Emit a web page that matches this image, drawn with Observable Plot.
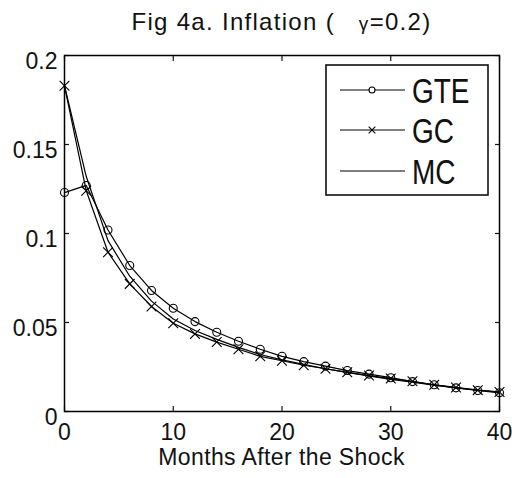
<!DOCTYPE html>
<html>
<head>
<meta charset="utf-8">
<script src="https://cdn.jsdelivr.net/npm/d3@7"></script>
<script src="https://cdn.jsdelivr.net/npm/@observablehq/plot@0.6"></script>
<style>
  html, body { margin: 0; padding: 0; background: white; }
  #wrap { position: relative; width: 512px; height: 478px; overflow: hidden; font-family: "Liberation Sans", Arial, sans-serif; color: black; }
  #title { position: absolute; left: 34px; width: 495px; top: 10px; text-align: center; font-size: 24px; line-height: 24px; white-space: pre; letter-spacing: 1.3px; color: #111; }
  #title .g { font-size: 19px; }
  #xlabel { position: absolute; left: 34px; width: 495px; top: 446px; text-align: center; font-size: 23px; line-height: 23px; white-space: pre; letter-spacing: 0.4px; color: #111; }
  #legend { position: absolute; left: 0; top: 0; }
</style>
</head>
<body>
<div id="wrap">
  <div id="chart"></div>
  <div id="title">Fig 4a. Inflation (   <span class="g">γ</span>=0.2)</div>
  <div id="xlabel">Months After the Shock</div>
  <svg id="legend" width="512" height="478"></svg>
</div>
<script>
const months = [0, 2, 4, 6, 8, 10, 12, 14, 16, 18, 20, 22, 24, 26, 28, 30, 32, 34, 36, 38, 40];
const gteValues = [0.123, 0.127, 0.102, 0.082, 0.068, 0.058, 0.0505, 0.0445, 0.0395, 0.035, 0.031, 0.028, 0.0255, 0.023, 0.021, 0.019, 0.0168, 0.015, 0.0133, 0.0118, 0.0105];
const gcValues  = [0.183, 0.124, 0.0895, 0.0717, 0.059, 0.0496, 0.0436, 0.039, 0.035, 0.031, 0.0285, 0.026, 0.024, 0.022, 0.0202, 0.0185, 0.017, 0.015, 0.0135, 0.012, 0.011];
const mcValues  = [0.183, 0.132, 0.096, 0.076, 0.062, 0.052, 0.0455, 0.0405, 0.036, 0.032, 0.029, 0.0265, 0.024, 0.022, 0.020, 0.018, 0.0165, 0.0148, 0.0133, 0.012, 0.0108];
const seriesNames = ["GTE", "GC", "MC"];
const seriesSymbols = ["circle", "times", null];
const xTicks = [0, 10, 20, 30, 40];
const xTickLabels = ["0", "10", "20", "30", "40"];
const yTicks = [0, 0.05, 0.1, 0.15, 0.2];
const yTickLabels = ["0", "0.05", "0.1", "0.15", "0.2"];

const seriesValues = [gteValues, gcValues, mcValues];
const data = seriesNames.flatMap((name, i) => months.map((m, j) => ({series: name, month: m, value: seriesValues[i][j]})));
const gteData = data.filter(d => d.series === "GTE");
const gcData = data.filter(d => d.series === "GC");

const blank = () => "";
const chart = Plot.plot({
  width: 512,
  height: 478,
  marginTop: 55,
  marginBottom: 67,
  marginLeft: 64,
  marginRight: 13,
  style: {fontFamily: "'Liberation Sans', Arial, sans-serif", fontSize: "23px", color: "#111", background: "white", overflow: "visible"},
  x: {domain: [0, 40], label: null},
  y: {domain: [0, 0.2], label: null},
  marks: [
    Plot.axisX({anchor: "bottom", ticks: xTicks, tickSize: 0, tickPadding: 12, tickFormat: d => xTickLabels[xTicks.indexOf(d)], label: null, fontSize: 23}),
    Plot.axisY({anchor: "left", ticks: yTicks, tickSize: 0, tickPadding: 7, dy: 6, tickFormat: d => yTickLabels[yTicks.indexOf(d)], label: null, fontSize: 23}),
    Plot.axisX({anchor: "bottom", ticks: xTicks, tickSize: 5, dy: -5, tickFormat: blank, label: null, strokeWidth: 1.2}),
    Plot.axisX({anchor: "top", ticks: xTicks, tickSize: 5, dy: 5, tickFormat: blank, label: null, strokeWidth: 1.2}),
    Plot.axisY({anchor: "left", ticks: yTicks, tickSize: 5, dx: 5, tickFormat: blank, label: null, strokeWidth: 1.2}),
    Plot.axisY({anchor: "right", ticks: yTicks, tickSize: 5, dx: -5, tickFormat: blank, label: null, strokeWidth: 1.2}),
    Plot.line(data, {x: "month", y: "value", z: "series", stroke: "black", strokeWidth: 1.2}),
    Plot.dot(gteData, {x: "month", y: "value", symbol: "circle", r: 4, stroke: "black", fill: "none", strokeWidth: 1.1}),
    Plot.dot(gcData, {x: "month", y: "value", symbol: "times", r: 4.5, stroke: "black", fill: "none", strokeWidth: 1.1}),
    Plot.frame({stroke: "black", strokeWidth: 1.5})
  ]
});
document.getElementById("chart").appendChild(chart);

// Legend box
const lg = d3.select("#legend");
const box = {x: 326, y: 65, w: 162, h: 130};
lg.append("rect").attr("x", box.x).attr("y", box.y).attr("width", box.w).attr("height", box.h)
  .attr("fill", "white").attr("stroke", "black").attr("stroke-width", 1.5);
const rowY = [90, 130, 171];
seriesNames.forEach((name, i) => {
  const y = rowY[i];
  lg.append("line").attr("x1", 340).attr("x2", 405).attr("y1", y).attr("y2", y).attr("stroke", "black").attr("stroke-width", 1.2);
  if (seriesSymbols[i]) {
    const sym = seriesSymbols[i] === "circle" ? d3.symbolCircle : d3.symbolTimes;
    lg.append("path").attr("d", d3.symbol(sym, seriesSymbols[i] === "circle" ? 28 : 30)())
      .attr("transform", `translate(372,${y})`).attr("fill", seriesSymbols[i] === "circle" ? "white" : "none")
      .attr("stroke", "black").attr("stroke-width", 1.1);
  }
  lg.append("text").attr("transform", `translate(412,${y}) scale(1,1.28)`)
    .attr("dy", "0.36em").attr("font-family", "'Liberation Sans', Arial, sans-serif").attr("font-size", 28)
    .attr("fill", "#111").text(name);
});
</script>
</body>
</html>
